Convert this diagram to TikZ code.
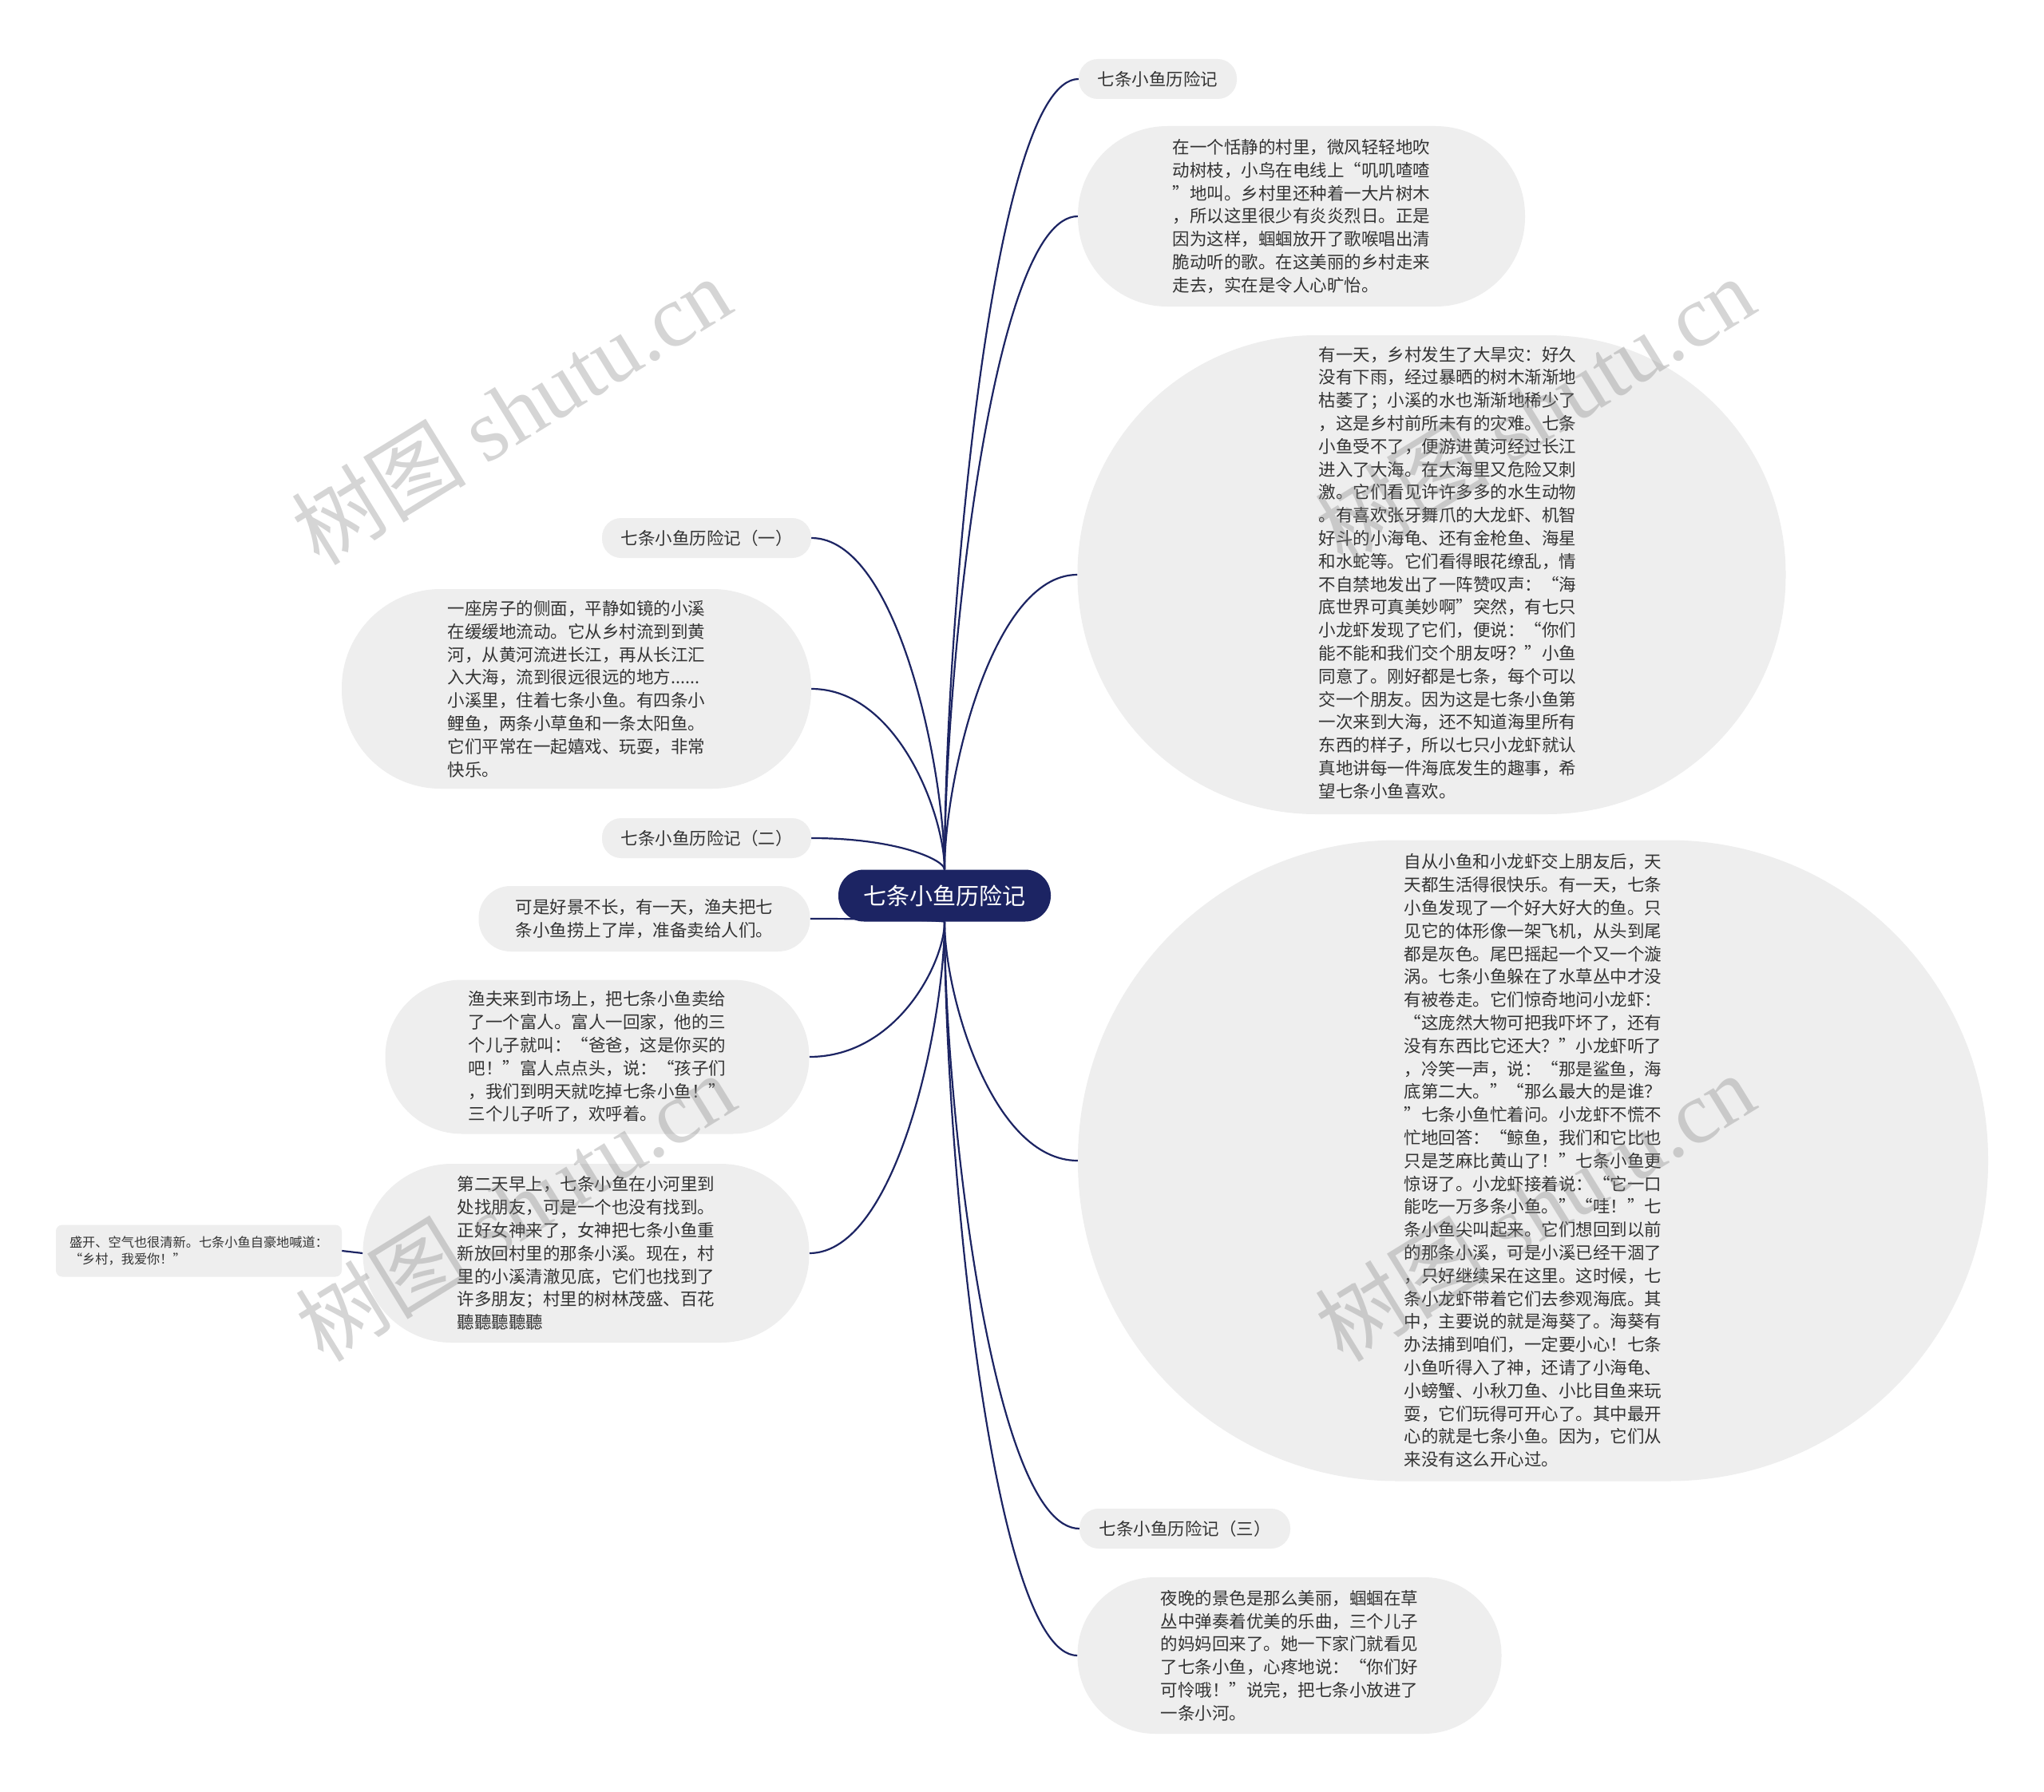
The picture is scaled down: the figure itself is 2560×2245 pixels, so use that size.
\documentclass[tikz,border=0pt]{standalone}
\usepackage{fontspec}
\setmainfont{Noto Sans CJK SC}
\newfontfamily\wmlatin{Liberation Serif}
\usetikzlibrary{calc,backgrounds}
\definecolor{navy}{HTML}{1C2463}
\definecolor{boxgrey}{HTML}{EEEEEE}
\definecolor{txt}{HTML}{333333}
\definecolor{wmgrey}{HTML}{808080}
\tikzset{
  topic/.style={fill=boxgrey, text=txt, inner sep=0pt, align=left,
    font=\fontsize{21.5}{28.8}\selectfont},
  sz/.style n args={3}{minimum width=#1, minimum height=#2, rounded corners=#3},
  link/.style={draw=navy, line width=2.2pt,
    to path={let \p1=(\tikztostart), \p2=(\tikztotarget) in
      .. controls (\x1,{\y1+0.3*((\y2)-(\y1))}) and ({\x1+0.35*((\x2)-(\x1))},\y2) .. (\tikztotarget)}},
  wm/.style={text=wmgrey, text opacity=0.33, font=\fontsize{110}{110}\selectfont,
    inner sep=0pt, rotate=31.6},
}
\begin{document}
\begin{tikzpicture}[x=1pt,y=-1pt]
\useasboundingbox (0,0) rectangle (2560,2245);

% root
\node[fill=navy, text=white, inner sep=0pt, font=\fontsize{29}{29}\selectfont,
  sz={266pt}{65pt}{32pt}] (root) at (1183,1122) {七条小鱼历险记};

% right side
\node[topic, sz={198pt}{50pt}{24pt}] (r1) at (1450,99) {七条小鱼历险记};
\node[topic, sz={560pt}{226pt}{112pt}] (r2) at (1630,271) {在一个恬静的村里，微风轻轻地吹\\动树枝，小鸟在电线上“叽叽喳喳\\”地叫。乡村里还种着一大片树木\\，所以这里很少有炎炎烈日。正是\\因为这样，蝈蝈放开了歌喉唱出清\\脆动听的歌。在这美丽的乡村走来\\走去，实在是令人心旷怡。};
\node[topic, sz={887pt}{600pt}{299pt}] (r3) at (1793,720) {\hspace*{40pt}\begin{tabular}{@{}l@{}}有一天，乡村发生了大旱灾：好久\\没有下雨，经过暴晒的树木渐渐地\\枯萎了；小溪的水也渐渐地稀少了\\，这是乡村前所未有的灾难。七条\\小鱼受不了，便游进黄河经过长江\\进入了大海。在大海里又危险又刺\\激。它们看见许许多多的水生动物\\。有喜欢张牙舞爪的大龙虾、机智\\好斗的小海龟、还有金枪鱼、海星\\和水蛇等。它们看得眼花缭乱，情\\不自禁地发出了一阵赞叹声：“海\\底世界可真美妙啊”突然，有七只\\小龙虾发现了它们，便说：“你们\\能不能和我们交个朋友呀？”小鱼\\同意了。刚好都是七条，每个可以\\交一个朋友。因为这是七条小鱼第\\一次来到大海，还不知道海里所有\\东西的样子，所以七只小龙虾就认\\真地讲每一件海底发生的趣事，希\\望七条小鱼喜欢。\end{tabular}};
\node[topic, sz={1140pt}{803pt}{400pt}] (r4) at (1920,1454) {自从小鱼和小龙虾交上朋友后，天\\天都生活得很快乐。有一天，七条\\小鱼发现了一个好大好大的鱼。只\\见它的体形像一架飞机，从头到尾\\都是灰色。尾巴摇起一个又一个漩\\涡。七条小鱼躲在了水草丛中才没\\有被卷走。它们惊奇地问小龙虾：\\“这庞然大物可把我吓坏了，还有\\没有东西比它还大？”小龙虾听了\\，冷笑一声，说：“那是鲨鱼，海\\底第二大。”“那么最大的是谁？\\”七条小鱼忙着问。小龙虾不慌不\\忙地回答：“鲸鱼，我们和它比也\\只是芝麻比黄山了！”七条小鱼更\\惊讶了。小龙虾接着说：“它一口\\能吃一万多条小鱼。”“哇！”七\\条小鱼尖叫起来。它们想回到以前\\的那条小溪，可是小溪已经干涸了\\，只好继续呆在这里。这时候，七\\条小龙虾带着它们去参观海底。其\\中，主要说的就是海葵了。海葵有\\办法捕到咱们，一定要小心！七条\\小鱼听得入了神，还请了小海龟、\\小螃蟹、小秋刀鱼、小比目鱼来玩\\耍，它们玩得可开心了。其中最开\\心的就是七条小鱼。因为，它们从\\来没有这么开心过。};
\node[topic, sz={264pt}{50pt}{24pt}] (r5) at (1484,1915) {七条小鱼历险记（三）};
\node[topic, sz={531pt}{196pt}{97pt}] (r6) at (1615,2074) {夜晚的景色是那么美丽，蝈蝈在草\\丛中弹奏着优美的乐曲，三个儿子\\的妈妈回来了。她一下家门就看见\\了七条小鱼，心疼地说：“你们好\\可怜哦！”说完，把七条小放进了\\一条小河。};

% left side
\node[topic, sz={262pt}{50pt}{24pt}] (l1) at (885,674) {七条小鱼历险记（一）};
\node[topic, sz={588pt}{250pt}{124pt}] (l2) at (722,863) {一座房子的侧面，平静如镜的小溪\\在缓缓地流动。它从乡村流到到黄\\河，从黄河流进长江，再从长江汇\\入大海，流到很远很远的地方......\\小溪里，住着七条小鱼。有四条小\\鲤鱼，两条小草鱼和一条太阳鱼。\\它们平常在一起嬉戏、玩耍，非常\\快乐。};
\node[topic, sz={262pt}{50pt}{24pt}] (l3) at (885,1050) {七条小鱼历险记（二）};
\node[topic, sz={415pt}{82pt}{40pt}] (l4) at (807,1151) {可是好景不长，有一天，渔夫把七\\条小鱼捞上了岸，准备卖给人们。};
\node[topic, sz={531pt}{193pt}{96pt}] (l5) at (748,1324) {渔夫来到市场上，把七条小鱼卖给\\了一个富人。富人一回家，他的三\\个儿子就叫：“爸爸，这是你买的\\吧！”富人点点头，说：“孩子们\\，我们到明天就吃掉七条小鱼！”\\三个儿子听了，欢呼着。};
\node[topic, sz={559pt}{224pt}{111pt}] (l6) at (734,1570) {第二天早上，七条小鱼在小河里到\\处找朋友，可是一个也没有找到。\\正好女神来了，女神把七条小鱼重\\新放回村里的那条小溪。现在，村\\里的小溪清澈见底，它们也找到了\\许多朋友；村里的树林茂盛、百花\\聽聽聽聽聽};
\node[topic, sz={358pt}{65pt}{8pt}, font=\fontsize{16.2}{21}\selectfont] (l7) at (249,1567) {盛开、空气也很清新。七条小鱼自豪地喊道：\\“乡村，我爱你！”};

\begin{scope}[on background layer]
  \fill[white] (0,0) rectangle (2560,2245);
  \draw[link] (root.north) to (r1.west);
  \draw[link] (root.north) to (r2.west);
  \draw[link] (root.north) to (r3.west);
  \draw[link] (root.south) to (r4.west);
  \draw[link] (root.south) to (r5.west);
  \draw[link] (root.south) to (r6.west);
  \draw[link] (root.north) to (l1.east);
  \draw[link] (root.north) to (l2.east);
  \draw[link] (root.north) to (l3.east);
  \draw[link] (root.south) to (l4.east);
  \draw[link] (root.south) to (l5.east);
  \draw[link] (root.south) to (l6.east);
  \draw[draw=navy, line width=2.2pt] (l6.west) -- (l7.east);
\end{scope}

% watermarks
\node[wm] (wm1) at (640,514) {树图 {\wmlatin shutu.cn}};
\node[wm] (wm2) at (1922,514) {树图 {\wmlatin shutu.cn}};
\node[wm] (wm3) at (645,1512) {树图 {\wmlatin shutu.cn}};
\node[wm] (wm4) at (1922,1512) {树图 {\wmlatin shutu.cn}};
\end{tikzpicture}
\end{document}
